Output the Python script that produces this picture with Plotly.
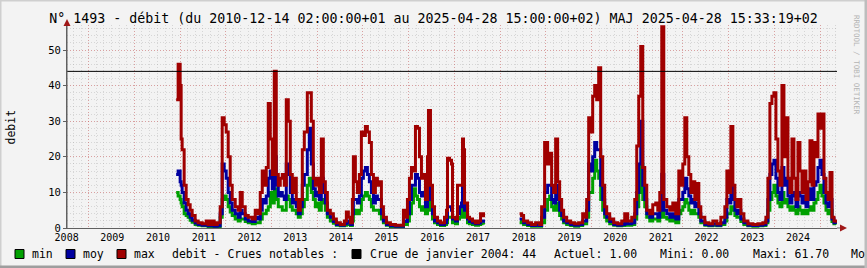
import plotly.graph_objects as go

# ---------------- data ----------------
dates = [
 "2010-05-22","2010-06-07","2010-06-23","2010-07-01","2010-07-09","2010-07-25","2010-08-10","2010-08-26",
 "2010-09-11","2010-09-27","2010-10-21","2010-11-14","2010-12-16","2011-01-17","2011-02-02","2011-02-26",
 "2011-03-22","2011-04-15","2011-05-09","2011-05-25","2011-06-10","2011-06-26","2011-07-12","2011-07-28",
 "2011-08-13","2011-09-06","2011-09-30","2011-10-16","2011-11-01","2011-11-25","2011-12-19","2012-01-20",
 "2012-02-13","2012-03-08","2012-03-24","2012-04-09","2012-04-25","2012-05-11","2012-05-27","2012-06-12",
 "2012-06-28","2012-07-14","2012-07-30","2012-08-15","2012-08-31","2012-09-16","2012-10-02","2012-10-18",
 "2012-11-03","2012-11-19","2012-12-05","2012-12-21","2013-01-06","2013-01-22","2013-02-07","2013-02-23",
 "2013-03-11","2013-04-04","2013-04-20","2013-05-06","2013-05-22","2013-06-07","2013-06-23","2013-07-09",
 "2013-07-25","2013-08-10","2013-08-26","2013-09-11","2013-10-05","2013-10-29","2013-11-22","2013-12-24",
 "2014-01-25","2014-02-10","2014-02-26","2014-03-14","2014-03-30","2014-04-07","2014-04-23","2014-05-09",
 "2014-05-25","2014-06-10","2014-06-26","2014-07-12","2014-07-28","2014-08-13","2014-08-29","2014-09-14",
 "2014-09-30","2014-10-16","2014-11-01","2014-11-17","2014-12-03","2014-12-27","2015-01-28","2015-03-09",
 "2015-04-18","2015-05-12","2015-05-28","2015-06-13","2015-06-29","2015-07-15","2015-07-31","2015-08-16",
 "2015-09-01","2015-09-17","2015-10-03","2015-10-19","2015-11-04","2015-11-20","2015-11-28","2015-12-14",
 "2015-12-30","2016-01-15","2016-02-08","2016-03-03","2016-04-04","2016-04-20","2016-04-28","2016-05-14",
 "2016-05-30","2016-06-07","2016-07-01","2016-07-17","2016-08-02","2016-08-18","2016-08-26","2016-09-03",
 "2016-09-11","2016-10-05","2016-10-21","2016-11-14","2016-12-08","2017-01-01","2017-01-17","2017-02-02",
 "2017-02-10","2017-11-25","2017-12-11","2017-12-27","2018-01-28","2018-03-01","2018-04-02","2018-05-04",
 "2018-05-20","2018-06-13","2018-07-07","2018-07-23","2018-08-08","2018-08-24","2018-09-09","2018-09-25",
 "2018-10-11","2018-10-27","2018-11-12","2018-12-06","2019-01-07","2019-02-08","2019-03-12","2019-04-13",
 "2019-04-29","2019-05-15","2019-05-31","2019-06-16","2019-07-02","2019-07-18","2019-08-03","2019-08-19",
 "2019-09-04","2019-09-20","2019-10-06","2019-10-22","2019-11-15","2019-12-17","2020-01-18","2020-02-19",
 "2020-03-14","2020-04-07","2020-05-09","2020-06-02","2020-06-18","2020-07-04","2020-07-20","2020-08-05",
 "2020-08-21","2020-09-06","2020-09-30","2020-10-24","2020-11-17","2020-12-03","2020-12-19","2021-01-04",
 "2021-01-20","2021-02-13","2021-03-09","2021-04-02","2021-04-26","2021-05-20","2021-06-05","2021-06-21",
 "2021-07-07","2021-07-23","2021-08-08","2021-08-24","2021-09-09","2021-09-25","2021-10-11","2021-10-27",
 "2021-11-12","2021-12-14","2022-01-15","2022-02-16","2022-03-20","2022-04-21","2022-05-23","2022-06-08",
 "2022-06-24","2022-07-10","2022-07-26","2022-08-11","2022-08-27","2022-09-12","2022-09-28","2022-10-22",
 "2022-11-23","2023-01-02","2023-02-11","2023-03-23","2023-04-16","2023-05-02","2023-05-18","2023-06-03",
 "2023-06-19","2023-07-05","2023-07-21","2023-08-06","2023-08-22","2023-09-07","2023-09-23","2023-10-09",
 "2023-10-25","2023-11-10","2023-11-26","2023-12-12","2023-12-28","2024-01-13","2024-01-29","2024-02-14",
 "2024-03-01","2024-03-17","2024-04-02","2024-04-18","2024-05-04","2024-05-20","2024-06-05","2024-06-21",
 "2024-07-07","2024-07-23","2024-08-08","2024-08-24","2024-09-09","2024-09-25","2024-10-11","2024-10-27",
]

debit_max = [
 36,46,40,25,22,12,8,6.5, 5,3.5,2,1.5,1.2,2,1.0,2,
 1,1.5,6,31,29,27,20,12, 8,6,5,10,6,3.5,3,2.5,
 5,4,10,16,12,17,35,25, 15,44,15,12,14,15,12,36,
 30,15,10,14,8,5,8,22, 27,38,38,30,14,12,14,10,
 25,13,10,5,4,2.5,1.5,1, 2,4.5,3,1.5,8,20,13,10,
 15,27,26,28.5,27,24,15,10, 14,12,13,6,3,1.5,1,0.8,
 0.8,5,3,8,14,17,16,28.5, 28,20,14,15,8,20,33,12,
 6,3,2,1.5,3,5,19.6,19, 18,3,2.5,12,12,12,25,22,
 7,3,2.5,2,1.5,2,4,4, 3,4,3.5,2,1.5,1,1.5,1,
 6,24,18,21,12,10,25,13, 8,5,3,2,1.5,1.2,1.5,4,
 3,8,31,27,37,40,36,45, 20,12,6,4,2.5,1.5,1.2,2,
 4,2,3,8,23,37,51,17, 12,5,4,6.5,7,5,10,56.5,
 8,6,5,7,4,16,12,18, 31,20,15,10,13,8,12.5,6,
 3,1.5,1.2,2,1.2,3,6,16, 10,28.5,12,8,6,8,4,2,
 1.2,1,1.2,1.5,3,14,35,37, 38,25,16,12,40,20,31,14,
 10,25,14,8,24,16,10,16, 8,13,24.5,12,24,20,32,28,
 32,14,10,8,15.6,3,2,1.5,
]

debit_moy = [
 15,16,13,12,10,7,5,4, 3,2.2,1.4,1.0,0.8,1,0.6,0.8,
 0.5,0.6,4,18,16,14,10,7, 5,4,3,5,4,2.5,2,1.8,
 3,2.5,5,8,7,9,14,16, 11,20,12,9,10,9,8,18,
 15,10,7,8,6,4,6,12, 15,22,28,18,11,9,10,8,
 14,10,7,4,3,1.8,1,0.8, 1.2,2,1.5,1,4,8,8,7,
 9,14,16,17,15,13,10,7, 9,8,8,4,2,1,0.6,0.5,
 0.5,2,1.8,4,8,12,12,15, 14,10,9,10,6,12,20,8,
 4,2,1.5,1,1.5,2.5,6,6, 5,2.5,2,4,6,7,12,10,
 5,2.5,1.8,1.5,1.2,1.4,2,2, 1.5,2.5,2.5,1.5,1,0.7,0.8,0.7,
 3,10,12,12,8,7,12,8, 5,3.5,2,1.5,1,0.8,1,2,
 2,5,18,16,20,24,22,22, 12,8,4,3,1.8,1,0.8,1,
 2,1.2,1.5,4,10,18,30,12, 8,4,3,4,4,3,5,15,
 5,4,3,4,2.5,8,8,10, 14,11,9,7,8,6,7,4,
 2,1,0.8,1.2,0.8,1.5,3,8, 7,12,8,5,4,5,2.5,1.5,
 0.8,0.7,0.8,1,2,8,15,18, 19,14,10,8,17,12,14,9,
 7,10,9,6,10,9,7,9, 6,8,11,8,12,13,17,19,
 15,10,7,6,8,2.5,1.5,1.2,
]

debit_min = [
 10,9,8,7,6,4,3.5,3, 2.2,1.6,1,0.8,0.6,0.6,0.4,0.5,
 0.3,0.4,3,8,9,8,6,4.5, 3.5,2.5,2,2.5,2.5,1.8,1.5,1.2,
 1.5,1.5,2.5,4,4,5,6,10, 7,11,8,6,6,5,5,9,
 8,6,5,5,4,3,4,6, 8,12,14,10,8,6,7,5,
 8,7,5,3,2,1.3,0.8,0.6, 0.8,1.2,1,0.7,2,4,5,4,
 5,8,9,10,9,8,6,5, 5,5,4,2.5,1.5,0.8,0.4,0.3,
 0.3,1,1,2,4,7,11,9, 8,6,5,6,4,7,8,5,
 2.5,1.5,1,0.7,1,1.5,3,3, 3,1.5,1.2,2.5,3,4,6,5,
 3,1.5,1.2,1,0.8,1,1.2,1.2, 1,1.5,1.8,1,0.7,0.5,0.5,0.5,
 1.5,5,8,9,6,5,7,5, 3.5,2.5,1.5,1,0.7,0.5,0.7,1.2,
 1.2,3,10,10,14,19,16,14, 8,5,3,2,1.2,0.8,0.6,0.7,
 1.2,0.8,1,2.5,6,10,18,8, 6,3,2,2.5,2.5,2,3,6,
 3,2.5,2,2.5,1.5,4,5,6, 8,7,5,4,5,4,4,3,
 1.5,0.8,0.6,0.8,0.6,1,2,4, 4,6,5,3.5,3,3,1.8,1,
 0.6,0.5,0.6,0.7,1.5,5,8,10, 12,9,7,6,10,7,8,6,
 5,6,5,4,6,5,4,5, 4,5,6,5,7,8,10,12,
 9,7,5,4,5,1.8,1.2,1,
]

# data gap (no measurements) after this date
gap_after = "2017-02-10"

crue_label = "Crue de janvier 2004"
crue_value = 44
stats = {"Actuel": "1.00", "Mini": "0.00", "Maxi": "61.70"}

year_ticks = list(range(2008, 2025))
y_ticks = [0, 10, 20, 30, 40, 50]

title = "N° 1493 - débit (du 2010-12-14 02:00:00+01 au 2025-04-28 15:00:00+02) MAJ 2025-04-28 15:33:19+02"

# ---------------- build series with gap ----------------
def with_gap(vals):
    xs, ys = [], []
    for d, v in zip(dates, vals):
        xs.append(d); ys.append(v)
        if d == gap_after:
            xs.append("2017-06-01"); ys.append(None)
    return xs, ys

C_MIN, C_MOY, C_MAX = "#00A000", "#0000A0", "#A00000"
FONT = "DejaVu Sans Mono"

fig = go.Figure()
for vals, col, name in [(debit_min, C_MIN, "min"), (debit_moy, C_MOY, "moy"), (debit_max, C_MAX, "max")]:
    xs, ys = with_gap(vals)
    fig.add_trace(go.Scatter(x=xs, y=ys, mode="lines", name=name,
                             line=dict(color=col, width=3, shape="hv"),
                             connectgaps=False, showlegend=False, hoverinfo="skip"))

# crue reference line
fig.add_trace(go.Scatter(x=["2008-01-01", "2024-11-04"], y=[crue_value, crue_value], mode="lines",
                         line=dict(color="black", width=1), showlegend=False, hoverinfo="skip"))

# ---------------- layout ----------------
W_, H_ = 867, 268
L, R, T, B = 67, 837, 25, 228
PW, PH = R - L, B - T

def px_x(x):
    return (x - L) / PW

def px_y(y):
    return (B - y) / PH

BG = "#F3F3F3"
MAJ_GRID = "rgba(220,80,80,0.40)"
MIN_GRID = "rgba(150,150,150,0.30)"
fig.update_layout(
    width=W_, height=H_,
    margin=dict(l=L, r=W_ - R, t=T, b=H_ - B, pad=0, autoexpand=False),
    paper_bgcolor=BG, plot_bgcolor=BG,
    font=dict(family=FONT, color="#000000"),
    title=dict(text=title, x=0.5, xanchor="center", y=1 - 18.5 / H_, yanchor="middle",
               yref="container", font=dict(family=FONT, size=13.3, color="#000000")),
)

fig.update_xaxes(
    type="date", range=["2008-01-01", "2024-11-04"], automargin=False,
    tickmode="array",
    tickvals=[f"{y}-06-22" for y in year_ticks],
    ticktext=[str(y) for y in year_ticks],
    ticklabelshift=-22,
    ticks="", showgrid=True, gridcolor=MAJ_GRID, griddash="1px,2px", gridwidth=1,
    minor=dict(dtick="M2", tick0="2008-06-22", showgrid=True,
               gridcolor=MIN_GRID, griddash="1px,2px", gridwidth=1),
    showline=True, linecolor="#606060", linewidth=1,
    zeroline=False,
    tickfont=dict(family=FONT, size=10, color="#000000"),
)
fig.update_yaxes(
    range=[0, PH / 3.56], tickmode="array", tickvals=y_ticks, automargin=False,
    ticks="outside", ticklen=3, tickcolor="#606060",
    showgrid=True, gridcolor=MAJ_GRID, griddash="1px,2px", gridwidth=1,
    minor=dict(dtick=2, showgrid=True, gridcolor=MIN_GRID, griddash="1px,2px", gridwidth=1),
    showline=True, linecolor="#606060", linewidth=1, zeroline=False,
    tickfont=dict(family=FONT, size=10.5, color="#000000"),
)

shapes = []
# axis extensions + arrows
shapes.append(dict(type="line", xref="paper", yref="paper", x0=px_x(L), x1=px_x(L), y0=px_y(B), y1=px_y(21),
                   line=dict(color="#606060", width=1)))
shapes.append(dict(type="line", xref="paper", yref="paper", x0=px_x(R), x1=px_x(842), y0=px_y(B), y1=px_y(B),
                   line=dict(color="#606060", width=1)))
ARROW = "#A01818"
shapes.append(dict(type="path", xref="paper", yref="paper", fillcolor=ARROW, line=dict(color=ARROW, width=0),
                   path=f"M {px_x(L-3.5)},{px_y(26)} L {px_x(L+3.5)},{px_y(26)} L {px_x(L)},{px_y(19)} Z"))
shapes.append(dict(type="path", xref="paper", yref="paper", fillcolor=ARROW, line=dict(color=ARROW, width=0),
                   path=f"M {px_x(840)},{px_y(B-3.5)} L {px_x(840)},{px_y(B+3.5)} L {px_x(847)},{px_y(B)} Z"))

# legend boxes
box_defs = [(15, C_MIN), (66, C_MOY), (117, C_MAX), (352, "#000000")]
for bx, col in box_defs:
    shapes.append(dict(type="rect", xref="paper", yref="paper",
                       x0=px_x(bx), x1=px_x(bx + 9), y0=px_y(258.5), y1=px_y(249.5),
                       fillcolor=col, line=dict(color="#000000", width=1)))

# outer frame (3D-like border)
shapes.append(dict(type="line", xref="paper", yref="paper", x0=px_x(0), x1=px_x(W_), y0=px_y(0.5), y1=px_y(0.5),
                   line=dict(color="#CFCFCF", width=2)))
shapes.append(dict(type="line", xref="paper", yref="paper", x0=px_x(0.5), x1=px_x(0.5), y0=px_y(0), y1=px_y(H_),
                   line=dict(color="#CFCFCF", width=2)))
shapes.append(dict(type="line", xref="paper", yref="paper", x0=px_x(0), x1=px_x(W_), y0=px_y(H_ - 1), y1=px_y(H_ - 1),
                   line=dict(color="#9E9E9E", width=3)))
shapes.append(dict(type="line", xref="paper", yref="paper", x0=px_x(W_ - 1), x1=px_x(W_ - 1), y0=px_y(0), y1=px_y(H_),
                   line=dict(color="#BDBDBD", width=3)))
fig.update_layout(shapes=shapes)

# legend texts
LEG_Y = px_y(254)
legend_texts = [
    (30, "min"), (81, "moy"), (132, "max"), (170, "debit - Crues notables :"),
    (367.5, f"{crue_label}: {crue_value}"),
    (551.5, f"Actuel: {stats['Actuel']}"), (658, f"Mini: {stats['Mini']}"),
    (751, f"Maxi: {stats['Maxi']}"), (849, "Mo"),
]
annotations = []
for tx, txt in legend_texts:
    annotations.append(dict(text=txt, x=px_x(tx), y=LEG_Y, xref="paper", yref="paper",
                            xanchor="left", yanchor="middle", showarrow=False,
                            font=dict(family=FONT, size=11.5, color="#000000")))
# y-axis title
annotations.append(dict(text="debit", x=px_x(10.5), y=px_y(127), xref="paper", yref="paper",
                        xanchor="center", yanchor="middle", showarrow=False, textangle=-90,
                        font=dict(family=FONT, size=11.5, color="#000000")))
annotations.append(dict(text="RRDTOOL / TOBI OETIKER", x=px_x(857), y=px_y(65), xref="paper", yref="paper",
                        xanchor="center", yanchor="middle", showarrow=False, textangle=90,
                        font=dict(family=FONT, size=7.5, color="#B4B4B4")))
fig.update_layout(annotations=annotations)

fig.write_html("out.html")
